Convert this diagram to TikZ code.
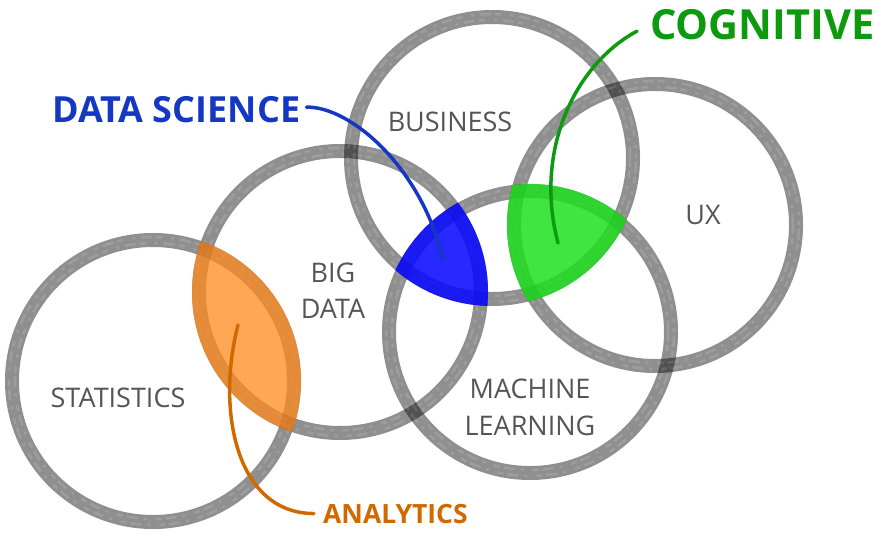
\documentclass[tikz,border=0pt]{standalone}
\usepackage{fontspec}
\setmainfont{Open Sans}
\definecolor{txtgray}{HTML}{555555}
\definecolor{dsblue}{HTML}{1538C4}
\definecolor{cogreen}{HTML}{0E9A0E}
\definecolor{anorange}{HTML}{D06A00}
\definecolor{fillorange}{HTML}{FF8A1C}
\definecolor{fillblue}{HTML}{0A0AFF}
\definecolor{fillgreen}{HTML}{1FE01F}
\begin{document}
\begin{tikzpicture}[x=1pt,y=-1pt]
\tikzstyle{ring}=[draw=black,opacity=0.44,line width=14pt]
\tikzstyle{grain}=[draw=white,opacity=0.12,line width=2.5pt,dash pattern=on 11pt off 6pt on 3pt off 9pt on 6pt off 4pt]
\tikzstyle{area}=[text=txtgray,font=\fontsize{27}{36.5}\selectfont,align=center,inner sep=0pt]
\tikzstyle{lead}=[line width=3.5pt,line cap=round]
\useasboundingbox (0,0) rectangle (885,537);
% circle centres
\coordinate (cS) at (153,381);
\coordinate (cBD) at (340,292);
\coordinate (cB) at (492,158);
\coordinate (cML) at (530,332);
\coordinate (cUX) at (655,225);
\foreach \c in {cS,cBD,cB,cML,cUX}{
  \draw[ring] (\c) circle[radius=141pt];
  \draw[grain] (\c) circle[radius=138pt];
  \draw[grain,dash phase=7pt] (\c) circle[radius=144pt];
}
% overlaps
\begin{scope}
\clip (cS) circle[radius=148pt];
\fill[fillorange,opacity=0.75] (cBD) circle[radius=148pt];
\end{scope}
\begin{scope}
\clip (cB) circle[radius=148pt];
\clip (cBD) circle[radius=148pt];
\fill[fillblue,opacity=0.88] (cML) circle[radius=148pt];
\end{scope}
\begin{scope}
\clip (cB) circle[radius=148pt];
\clip (cUX) circle[radius=148pt];
\fill[fillgreen,opacity=0.85] (cML) circle[radius=148pt];
\end{scope}
% circle labels
\node[area,anchor=base] (stat) at (118,407) {STATISTICS};
\node[area] (bigd) at (333,290.5) {BIG\\DATA};
\node[area,anchor=base] (bus) at (450,132) {BUSINESS};
\node[area] (mach) at (530,407.5) {MACHINE\\LEARNING};
\node[area,anchor=base] (ux) at (703,225) {UX};
% tags
\node[text=dsblue,font=\fontsize{36}{40}\selectfont\bfseries,inner sep=0pt,anchor=base west] (ds) at (52,123) {DATA SCIENCE};
\node[text=cogreen,font=\fontsize{41.5}{46}\selectfont\bfseries,inner sep=0pt,anchor=base west] (cog) at (650,40) {COGNITIVE};
\node[text=anorange,font=\fontsize{26.5}{30}\selectfont\bfseries,inner sep=0pt,anchor=base west] (an) at (323,523) {ANALYTICS};
\coordinate (dsdot) at (443,260);
\coordinate (cogdot) at (558,243);
\coordinate (andot) at (238,325);
\draw[lead,dsblue] ([shift={(6,-3)}]ds.east) .. controls +(45,-1) and +(-20,-90) .. (dsdot);
\draw[lead,cogreen] ([shift={(-13,6)}]cog.west) .. controls +(-60,32) and +(-25,-95) .. (cogdot);
\draw[lead,anorange] ([xshift=-9pt]an.west) .. controls +(-78,0) and +(-22,85) .. (andot);
\end{tikzpicture}
\end{document}
